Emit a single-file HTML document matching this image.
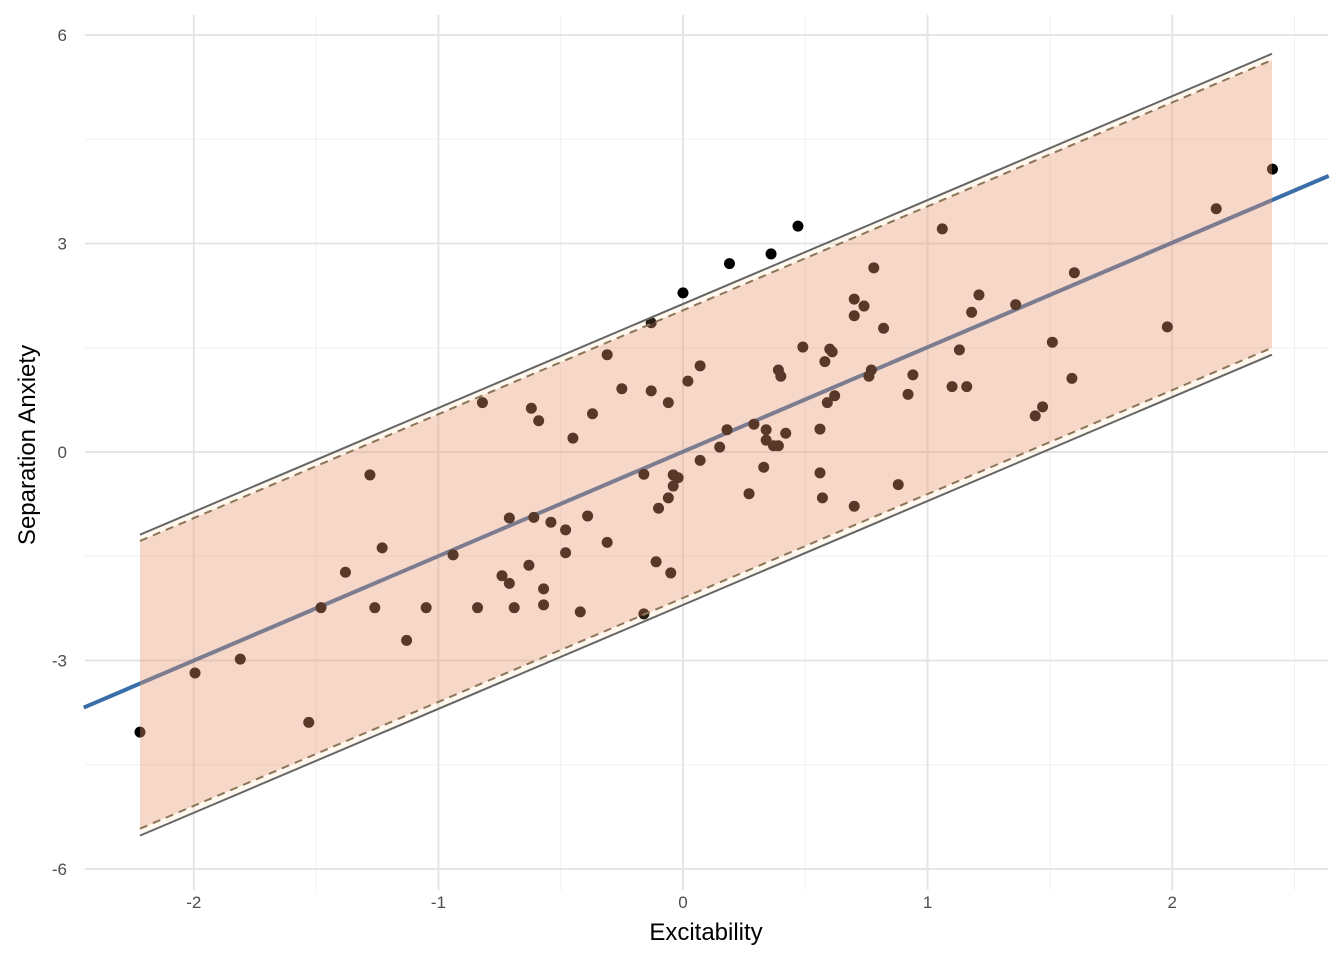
<!DOCTYPE html>
<html><head><meta charset="utf-8"><style>
html,body{margin:0;padding:0;background:#fff;}
svg{display:block;font-family:"Liberation Sans",Arial,sans-serif;}
</style></head><body>
<svg id="chart" width="1344" height="960" viewBox="0 0 1344 960" xmlns="http://www.w3.org/2000/svg">
<g id="grid"></g>
<g id="pts"></g>
<g id="band"></g>
<g id="axes"></g>
<text x="706" y="940" text-anchor="middle" font-size="24" fill="#000">Excitability</text>
<text transform="translate(35,445) rotate(-90)" text-anchor="middle" font-size="24" fill="#000">Separation Anxiety</text>
</svg>
<script>
const xPts=[-2.22,-1.995,-1.81,-1.53,-1.48,-1.38,-1.28,-1.26,-1.23,-1.13,-1.05,-0.94,-0.84,-0.82,-0.74,-0.71,-0.71,-0.69,-0.63,-0.62,-0.61,-0.59,-0.57,-0.57,-0.54,-0.48,-0.48,-0.45,-0.42,-0.39,-0.37,-0.31,-0.31,-0.25,-0.16,-0.16,-0.13,-0.13,-0.11,-0.10,-0.06,-0.06,-0.05,-0.04,-0.04,-0.02,0.02,0.07,0.07,0,0.15,0.18,0.19,0.27,0.29,0.33,0.34,0.34,0.36,0.37,0.39,0.39,0.40,0.42,0.47,0.49,0.56,0.56,0.57,0.58,0.59,0.60,0.62,0.61,0.70,0.70,0.70,0.74,0.76,0.77,0.78,0.82,0.88,0.92,0.94,1.06,1.10,1.13,1.16,1.18,1.21,1.36,1.44,1.47,1.51,1.59,1.60,1.98,2.18,2.41];
const yPts=[-4.03,-3.18,-2.98,-3.89,-2.24,-1.73,-0.33,-2.24,-1.38,-2.71,-2.24,-1.48,-2.24,0.71,-1.78,-1.89,-0.95,-2.24,-1.63,0.63,-0.94,0.45,-1.97,-2.20,-1.01,-1.12,-1.45,0.20,-2.30,-0.92,0.55,-1.30,1.40,0.91,-2.33,-0.32,1.86,0.88,-1.58,-0.81,-0.66,0.71,-1.74,-0.49,-0.33,-0.37,1.02,-0.12,1.24,2.29,0.07,0.32,2.71,-0.60,0.40,-0.22,0.32,0.17,2.85,0.09,0.09,1.18,1.09,0.27,3.25,1.51,0.33,-0.30,-0.66,1.30,0.71,1.48,0.81,1.44,2.20,-0.78,1.96,2.10,1.09,1.18,2.65,1.78,-0.47,0.83,1.11,3.21,0.94,1.47,0.94,2.01,2.26,2.12,0.52,0.65,1.58,1.06,2.58,1.80,3.50,4.07];
const fitLine=[-2.45,2.64];
const slope=1.503, intercept=0.005;
const bandX=[-2.22,2.408];
const upperPI=[-1.19,5.73];
const lowerPI=[-5.52,1.40];
const upperDash=[-1.28,5.64];
const lowerDash=[-5.42,1.50];
const xTicks=[-2,-1,0,1,2];
const xMinor=[-1.5,-0.5,0.5,1.5,2.5];
const yTicks=[-6,-3,0,3,6];
const yMinor=[-4.5,-1.5,1.5,4.5];
const X0=85,X1=1328,Y0=15,Y1=890;
const sx=v=>683+v*244.6, sy=v=>452-v*69.5;
const NS="http://www.w3.org/2000/svg";
function mk(tag,parent,attrs){const e=document.createElementNS(NS,tag);for(const k in attrs)e.setAttribute(k,attrs[k]);document.getElementById(parent).appendChild(e);return e;}
xMinor.forEach(v=>{const e=mk('line','grid',{x1:sx(v),x2:sx(v),y1:Y0,y2:Y1,stroke:'#f0f0f0','stroke-width':1});

});
yMinor.forEach(v=>{const e=mk('line','grid',{x1:X0,x2:X1,y1:sy(v),y2:sy(v),stroke:'#f0f0f0','stroke-width':1});

});
xTicks.forEach(v=>{const e=mk('line','grid',{x1:sx(v),x2:sx(v),y1:Y0,y2:Y1,stroke:'#e5e5e5','stroke-width':2});


const t=mk('text','axes',{x:sx(v),y:908,'text-anchor':'middle','font-size':17,fill:'#4d4d4d'});t.textContent=v;

});
yTicks.forEach(v=>{const e=mk('line','grid',{x1:X0,x2:X1,y1:sy(v),y2:sy(v),stroke:'#e5e5e5','stroke-width':2});


const t=mk('text','axes',{x:67,y:sy(v)+6,'text-anchor':'end','font-size':17,fill:'#4d4d4d'});t.textContent=v;

});
const fl=mk('line','pts',{x1:sx(fitLine[0]),y1:sy(intercept+slope*fitLine[0]),x2:sx(fitLine[1]),y2:sy(intercept+slope*fitLine[1]),stroke:'#3a6ea8','stroke-width':4});


xPts.forEach((v,i)=>{const c=mk('circle','pts',{cx:sx(v),cy:sy(yPts[i]),r:5.5,fill:'#000'});

});
function poly(u,l){return `${sx(bandX[0])},${sy(u[0])} ${sx(bandX[1])},${sy(u[1])} ${sx(bandX[1])},${sy(l[1])} ${sx(bandX[0])},${sy(l[0])}`;}
const outer=mk('polygon','band',{points:poly(upperPI,lowerPI),fill:'rgba(255,205,140,0.15)'});


const inner=mk('polygon','band',{points:poly(upperDash,lowerDash),fill:'rgba(225,125,95,0.27)'});


[[upperPI,'upper-prediction-line'],[lowerPI,'lower-prediction-line']].forEach(([a,n])=>{const e=mk('line','band',{x1:sx(bandX[0]),y1:sy(a[0]),x2:sx(bandX[1]),y2:sy(a[1]),stroke:'#666','stroke-width':2});

});
[[upperDash,'upper-dashed-line'],[lowerDash,'lower-dashed-line']].forEach(([a,n])=>{const e=mk('line','band',{x1:sx(bandX[0]),y1:sy(a[0]),x2:sx(bandX[1]),y2:sy(a[1]),stroke:'#8c7658','stroke-width':2,'stroke-dasharray':'8,6'});

});
</script>
</body></html>
